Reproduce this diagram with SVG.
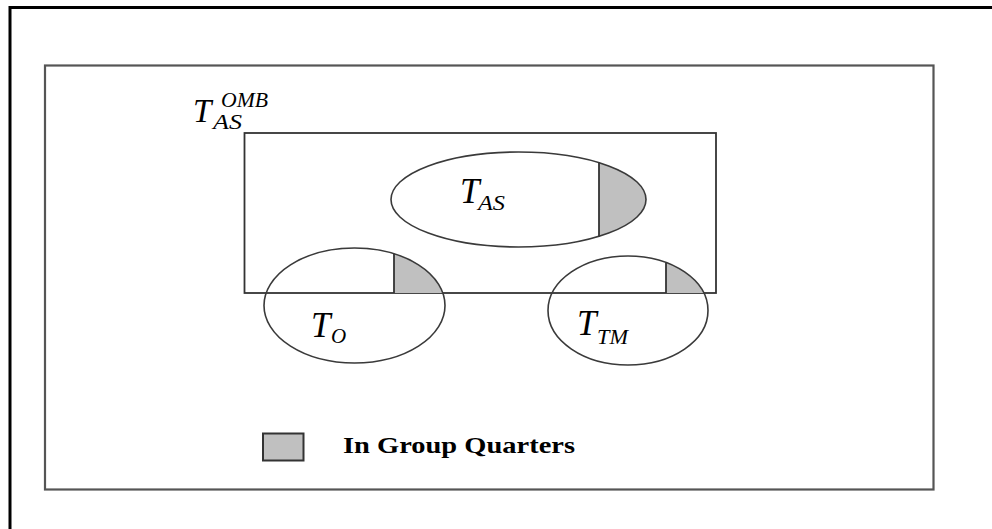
<svg xmlns="http://www.w3.org/2000/svg" width="992" height="529" viewBox="0 0 992 529">
<style>
.ell{fill:none;stroke:#3a3a3a;stroke-width:1.6}
.gq{fill:#c0c0c0;stroke:none}
.div{stroke:#333;stroke-width:1.8}
.lab{font-family:"Liberation Serif",serif;font-style:italic;fill:#000}
</style>
<rect width="992" height="529" fill="#fff"/>
<g id="frame">
<rect x="10" y="7.5" width="1000" height="600" fill="none" stroke="#000" stroke-width="3"/>
</g>
<g id="universe">
<rect x="45" y="65.5" width="888.5" height="424" fill="none" stroke="#555" stroke-width="2.2"/>
</g>
<g id="omb">
<rect x="244.5" y="133" width="471.5" height="160" fill="none" stroke="#333" stroke-width="1.8"/>
<text class="lab" x="193" y="122" font-size="33">T</text>
<text class="lab" x="221" y="107" font-size="20" textLength="47" lengthAdjust="spacingAndGlyphs">OMB</text>
<text class="lab" x="213" y="129" font-size="22" textLength="29" lengthAdjust="spacingAndGlyphs">AS</text>
</g>
<g id="tas">
<path class="gq" d="M599,162.6 A127.5,47.5 0 0 1 599,236.4 Z"/>
<ellipse class="ell" cx="518.5" cy="199.5" rx="127.5" ry="47.5"/>
<line class="div" x1="599" y1="162.6" x2="599" y2="236.4"/>
<text class="lab" x="460" y="203" font-size="35">T</text>
<text class="lab" x="478" y="210" font-size="21" textLength="27" lengthAdjust="spacingAndGlyphs">AS</text>
</g>
<g id="to">
<path class="gq" d="M394,253.8 A90.5,57.5 0 0 1 442.8,293 L394,293 Z"/>
<ellipse class="ell" cx="354.5" cy="305.5" rx="90.5" ry="57.5"/>
<line class="div" x1="394" y1="253.8" x2="394" y2="293"/>
<text class="lab" x="311" y="337" font-size="35">T</text>
<text class="lab" x="331" y="343" font-size="21">O</text>
</g>
<g id="ttm">
<path class="gq" d="M666,262.5 A80,54.5 0 0 1 703.8,293 L666,293 Z"/>
<ellipse class="ell" cx="628" cy="310.5" rx="80" ry="54.5"/>
<line class="div" x1="666" y1="262.5" x2="666" y2="293"/>
<text class="lab" x="577" y="335" font-size="35">T</text>
<text class="lab" x="597" y="344" font-size="20" textLength="31" lengthAdjust="spacingAndGlyphs">TM</text>
</g>
<g id="connectors"></g>
<g id="legend">
<rect x="263" y="433.5" width="40.5" height="27" fill="#c0c0c0" stroke="#333" stroke-width="2"/>
<text x="343" y="453" font-family="'Liberation Serif',serif" font-weight="bold" font-size="23" textLength="232" lengthAdjust="spacingAndGlyphs" fill="#000">In Group Quarters</text>
</g>
</svg>
